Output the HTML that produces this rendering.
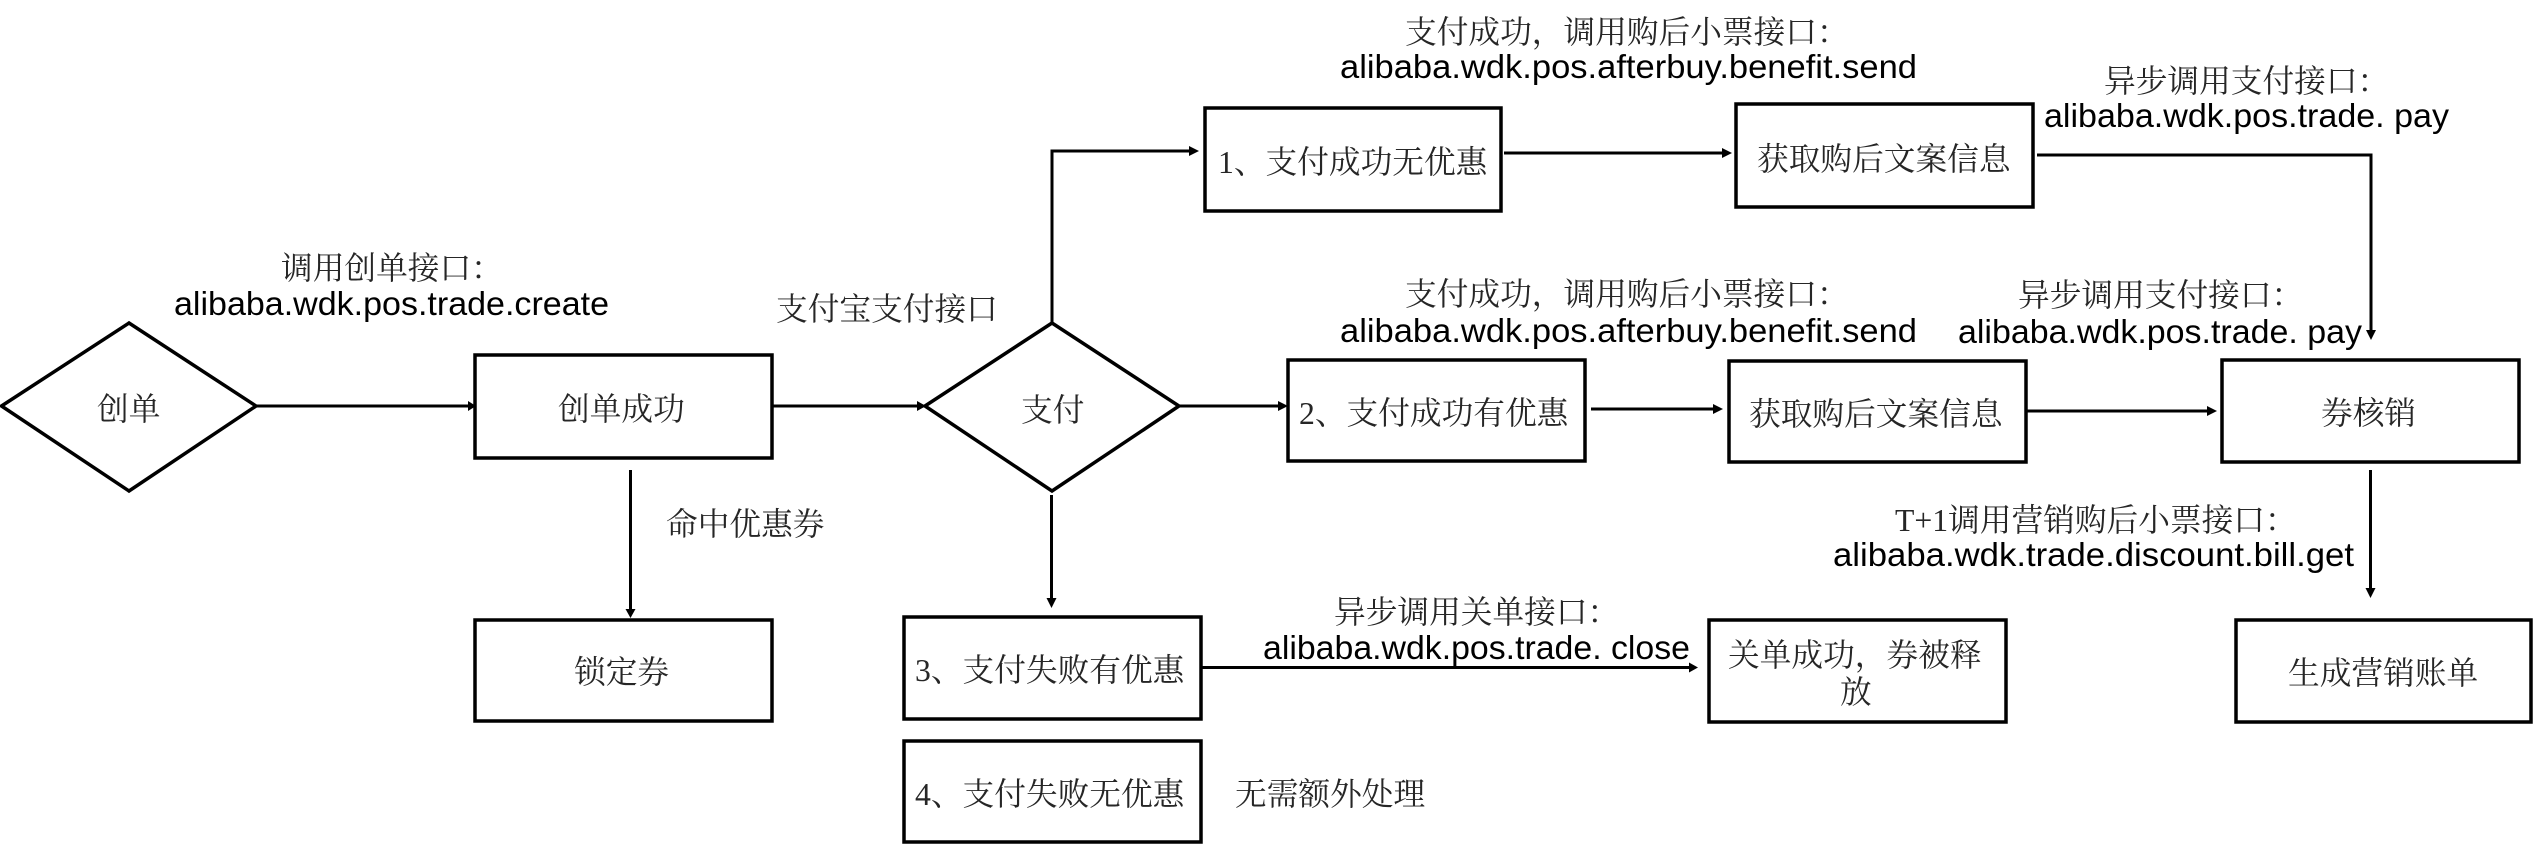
<!DOCTYPE html>
<html><head><meta charset="utf-8"><style>
html,body{margin:0;padding:0;background:#fff}
svg{display:block}
text{white-space:pre}
.c{font-family:"Liberation Serif","Noto Serif CJK SC",serif;font-size:31.7px;fill:#262626}
.l{font-family:"Liberation Sans","Noto Sans CJK SC",sans-serif;font-size:33px;fill:#000}
.b{fill:#fff;stroke:#000;stroke-width:3.5}
.a{fill:none;stroke:#000;stroke-width:3}
</style></head><body>
<svg xmlns="http://www.w3.org/2000/svg" width="2533" height="844" viewBox="0 0 2533 844">
<rect width="2533" height="844" fill="#fff"/>
<!-- connectors -->
<path class="a" d="M256 406H470"/><polygon points="476,406 468,401 468,411"/>
<path class="a" d="M772 406H920"/><polygon points="926,406 917,401 917,411"/>
<path class="a" d="M630.500 470V612"/><polygon points="630.500,618 625.500,609 635.500,609"/>
<path class="a" d="M1052 323V151H1192"/><polygon points="1199,151 1189,146 1189,156"/>
<path class="a" d="M1180 406H1281"/><polygon points="1288,406 1278,401 1278,411"/>
<path class="a" d="M1051.500 495V602"/><polygon points="1051.500,608 1046.500,598 1056.500,598"/>
<path class="a" d="M1504 153H1725"/><polygon points="1732,153 1722,148 1722,158"/>
<path class="a" d="M1591 409H1716"/><polygon points="1723,409 1713,404 1713,414"/>
<path class="a" d="M2037 155H2371V332"/><polygon points="2371,340 2366,330 2376,330"/>
<path class="a" d="M2026 411H2210"/><polygon points="2217,411 2207,406 2207,416"/>
<path class="a" d="M2370.500 470V590"/><polygon points="2370.500,598 2365.500,588 2375.500,588"/>
<path class="a" d="M1200 667.500H1692"/><polygon points="1698,667.500 1689,662.500 1689,672.500"/>
<!-- shapes -->
<polygon class="b" points="1.500,406 129,323 256,406 129,491"/>
<polygon class="b" points="925,406 1052,323 1179,406 1052,491"/>
<rect class="b" x="475" y="355" width="297" height="103"/>
<rect class="b" x="475" y="620" width="297" height="101"/>
<rect class="b" x="1205" y="108" width="296" height="103"/>
<rect class="b" x="1736" y="104" width="297" height="103"/>
<rect class="b" x="1288" y="360" width="297" height="101"/>
<rect class="b" x="1729" y="361" width="297" height="101"/>
<rect class="b" x="2222" y="360" width="297" height="102"/>
<rect class="b" x="904" y="617" width="297" height="102"/>
<rect class="b" x="904" y="741" width="297" height="101"/>
<rect class="b" x="1709" y="620" width="297" height="102"/>
<rect class="b" x="2236" y="620" width="295" height="102"/>
<!-- labels -->
<text class="c" x="281" y="279">调用创单接口：</text>
<text class="l" x="174" y="315" textLength="435" lengthAdjust="spacingAndGlyphs">alibaba.wdk.pos.trade.create</text>
<text class="c" x="97" y="420">创单</text>
<text class="c" x="558" y="420">创单成功</text>
<text class="c" x="666" y="535">命中优惠券</text>
<text class="c" x="776" y="320">支付宝支付接口</text>
<text class="c" x="1021" y="421">支付</text>
<text class="c" x="574" y="683">锁定券</text>

<text class="c" x="1405" y="43">支付成功，调用购后小票接口：</text>
<text class="l" x="1340" y="78" textLength="577" lengthAdjust="spacingAndGlyphs">alibaba.wdk.pos.afterbuy.benefit.send</text>
<text class="c" x="1218" y="173">1、支付成功无优惠</text>
<text class="c" x="1757" y="170">获取购后文案信息</text>
<text class="c" x="2104" y="92">异步调用支付接口：</text>
<text class="l" x="2044" y="127" textLength="405" lengthAdjust="spacingAndGlyphs">alibaba.wdk.pos.trade. pay</text>

<text class="c" x="1405" y="305">支付成功，调用购后小票接口：</text>
<text class="l" x="1340" y="342" textLength="577" lengthAdjust="spacingAndGlyphs">alibaba.wdk.pos.afterbuy.benefit.send</text>
<text class="c" x="2018" y="306">异步调用支付接口：</text>
<text class="l" x="1958" y="343" textLength="404" lengthAdjust="spacingAndGlyphs">alibaba.wdk.pos.trade. pay</text>
<text class="c" x="1299" y="424">2、支付成功有优惠</text>
<text class="c" x="1749" y="425">获取购后文案信息</text>
<text class="c" x="2321" y="424">券核销</text>

<text class="c" x="1895" y="531">T+1调用营销购后小票接口：</text>
<text class="l" x="1833" y="566" textLength="521" lengthAdjust="spacingAndGlyphs">alibaba.wdk.trade.discount.bill.get</text>
<text class="c" x="2288" y="684">生成营销账单</text>

<text class="c" x="915" y="681">3、支付失败有优惠</text>
<text class="c" x="915" y="805">4、支付失败无优惠</text>
<text class="c" x="1235" y="805">无需额外处理</text>
<text class="c" x="1334" y="623">异步调用关单接口：</text>
<text class="l" x="1263" y="659" textLength="427" lengthAdjust="spacingAndGlyphs">alibaba.wdk.pos.trade. close</text>
<text class="c" x="1728" y="666">关单成功，券被释</text>
<text class="c" x="1840" y="703">放</text>
</svg>
</body></html>
